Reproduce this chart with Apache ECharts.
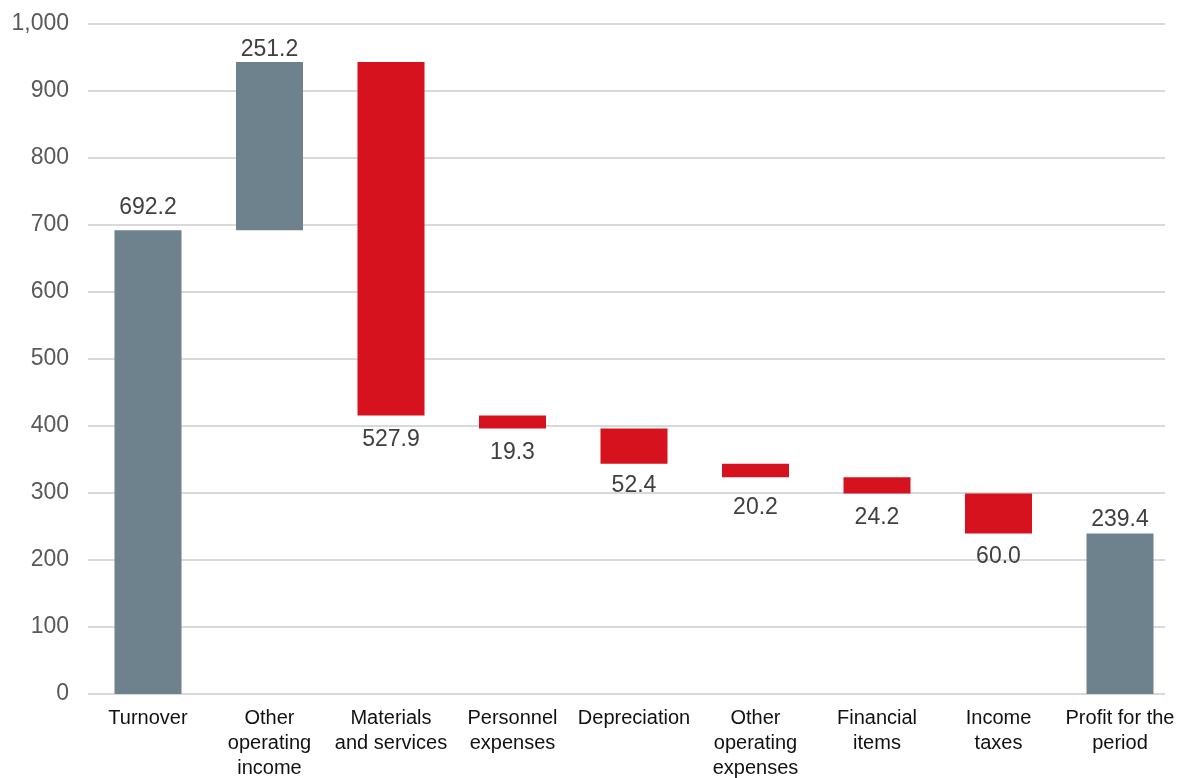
<!DOCTYPE html>
<html><head><meta charset="utf-8">
<script src="https://cdn.jsdelivr.net/npm/echarts@6/dist/echarts.min.js"></script>
<style>html,body{margin:0;padding:0;background:#fff}#c{width:1179px;height:778px}</style>
</head><body><div id="c"></div>
<script>
const categories = ["Turnover","Other\noperating\nincome","Materials\nand services","Personnel\nexpenses","Depreciation","Other\noperating\nexpenses","Financial\nitems","Income\ntaxes","Profit for the\nperiod"];
const values = [692.2, 251.2, 527.9, 19.3, 52.4, 20.2, 24.2, 60.0, 239.4];
const kinds = ["total","increase","decrease","decrease","decrease","decrease","decrease","decrease","total"];
const yTicks = {min:0, max:1000, interval:100};

// label gap (px) from bar edge, per bar, as placed in the reference
const labelGap = [11, 1, 13, 13, 11, 19, 13, 12, 2];

const GRAY = '#6E828E', RED = '#D6121F';
const FONT = 'Liberation Sans, Arial, sans-serif';
let run = 0;
const base = [], shown = [];
values.forEach((v,i)=>{
  const k = kinds[i];
  if (k === 'total') { base.push(0); run = v; shown.push({value:v, itemStyle:{color:GRAY}, label:{position:'top', distance:labelGap[i]}}); }
  else if (k === 'increase') { base.push(run); run += v; shown.push({value:v, itemStyle:{color:GRAY}, label:{position:'top', distance:labelGap[i]}}); }
  else { run -= v; base.push(run); shown.push({value:v, itemStyle:{color:RED}, label:{position:'bottom', distance:labelGap[i]}}); }
});

const chart = echarts.init(document.getElementById('c'), null, {renderer:'canvas'});
chart.setOption({
  animation:false,
  grid:[
    {left:88, right:14, top:24, bottom:84, containLabel:false, outerBoundsMode:'none'},
    {left:87.25, right:-1.75, top:24, bottom:84, containLabel:false, outerBoundsMode:'none'}
  ],
  xAxis:[
    {gridIndex:0, type:'value', show:false, min:0, max:1},
    {gridIndex:1, type:'category', data:categories,
     axisLine:{show:false}, axisTick:{show:false},
     axisLabel:{interval:0, color:'#111', fontFamily:FONT, fontSize:20, lineHeight:25, margin:12}}
  ],
  yAxis:[
    {gridIndex:0, type:'value', min:yTicks.min, max:yTicks.max, interval:yTicks.interval,
     axisLine:{show:false}, axisTick:{show:false},
     splitLine:{lineStyle:{color:'#D9D9D9', width:2}},
     axisLabel:{color:'#595959', fontFamily:FONT, fontSize:23, margin:19,
       formatter:v=>v.toLocaleString('en-US')}},
    {gridIndex:1, type:'value', min:yTicks.min, max:yTicks.max, interval:yTicks.interval, show:false, splitLine:{show:false}}
  ],
  series:[
    {type:'bar', xAxisIndex:1, yAxisIndex:1, stack:'w', data:base, barWidth:67, itemStyle:{color:'transparent'}, silent:true},
    {type:'bar', xAxisIndex:1, yAxisIndex:1, stack:'w', data:shown, barWidth:67,
     label:{show:true, color:'#404040', fontFamily:FONT, fontSize:23,
       formatter:p=>p.value.toFixed(1)}}
  ]
});
</script></body></html>
